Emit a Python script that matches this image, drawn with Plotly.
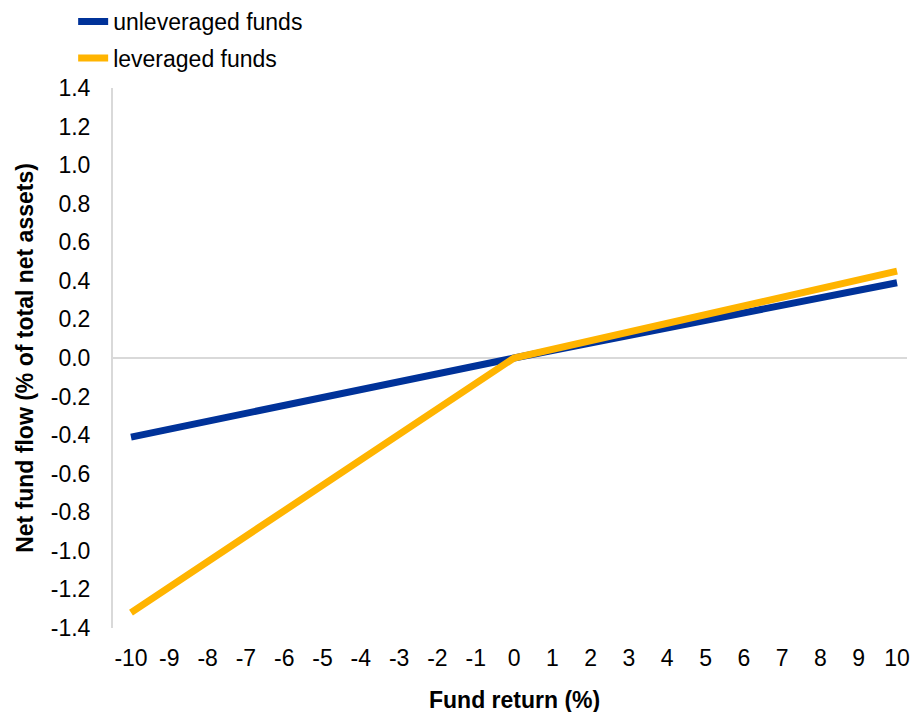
import plotly.graph_objects as go

# Data
fund_return = [-10, 0, 10]
unleveraged = [-0.41, 0.0, 0.39]
leveraged = [-1.32, 0.0, 0.45]

x_ticks = list(range(-10, 11))
x_tick_labels = [str(v) for v in x_ticks]
y_ticks = [round(-1.4 + 0.2 * i, 1) for i in range(15)]
y_tick_labels = [f"{v:.1f}" for v in y_ticks]

BLUE = "#003299"
YELLOW = "#FFB400"
GRID = "#D9D9D9"
FONT = "Arial, Liberation Sans, sans-serif"

fig = go.Figure()
fig.add_trace(go.Scatter(x=fund_return, y=unleveraged, mode="lines", name="unleveraged funds",
                         line=dict(color=BLUE, width=7), legend="legend", showlegend=True))
fig.add_trace(go.Scatter(x=fund_return, y=leveraged, mode="lines", name="leveraged funds",
                         line=dict(color=YELLOW, width=7), legend="legend2", showlegend=True))

W, H = 910, 712
L, R, T, B = 113, 0, 87, 84
pw, ph = W - L - R, H - T - B

def px_x(x):
    return (x - L) / pw

def px_y(y):
    return 1 - (y - T) / ph

fig.update_layout(
    width=W, height=H,
    showlegend=True,
    margin=dict(l=L, r=R, t=T, b=B),
    paper_bgcolor="white", plot_bgcolor="white",
    font=dict(family=FONT, size=23, color="black"),
    legend=dict(x=px_x(73), y=px_y(20), xanchor="left", yanchor="middle",
                bgcolor="rgba(0,0,0,0)", font=dict(size=23)),
    legend2=dict(x=px_x(73), y=px_y(57), xanchor="left", yanchor="middle",
                 bgcolor="rgba(0,0,0,0)", font=dict(size=23)),
    xaxis=dict(range=[-10.47, 10.26], tickmode="array", tickvals=x_ticks, ticktext=x_tick_labels,
               showgrid=False, zeroline=False, showline=False,
               ticks="outside", ticklen=9, tickcolor="rgba(0,0,0,0)",
               ticklabeloverflow="allow",
               tickfont=dict(size=23, color="black")),
    yaxis=dict(range=[-1.4, 1.4], tickmode="array", tickvals=y_ticks, ticktext=y_tick_labels,
               showgrid=False, zeroline=True, zerolinecolor=GRID, zerolinewidth=2,
               showline=True, linecolor=GRID, linewidth=2,
               ticks="outside", ticklen=16, tickcolor="rgba(0,0,0,0)",
               tickfont=dict(size=23, color="black")),
    annotations=[
        dict(text="<b>Fund return (%)</b>", xref="x", yref="paper", x=0, y=px_y(700),
             xanchor="center", yanchor="middle", showarrow=False, font=dict(size=23)),
        dict(text="<b>Net fund flow (% of total net assets)</b>", xref="paper", yref="paper",
             x=px_x(24), y=px_y(357), xanchor="center", yanchor="middle", textangle=-90,
             showarrow=False, font=dict(size=23)),
    ],
)

fig.write_html("out.html", config={"displayModeBar": False},
               post_script="document.body.style.margin='0px';")
